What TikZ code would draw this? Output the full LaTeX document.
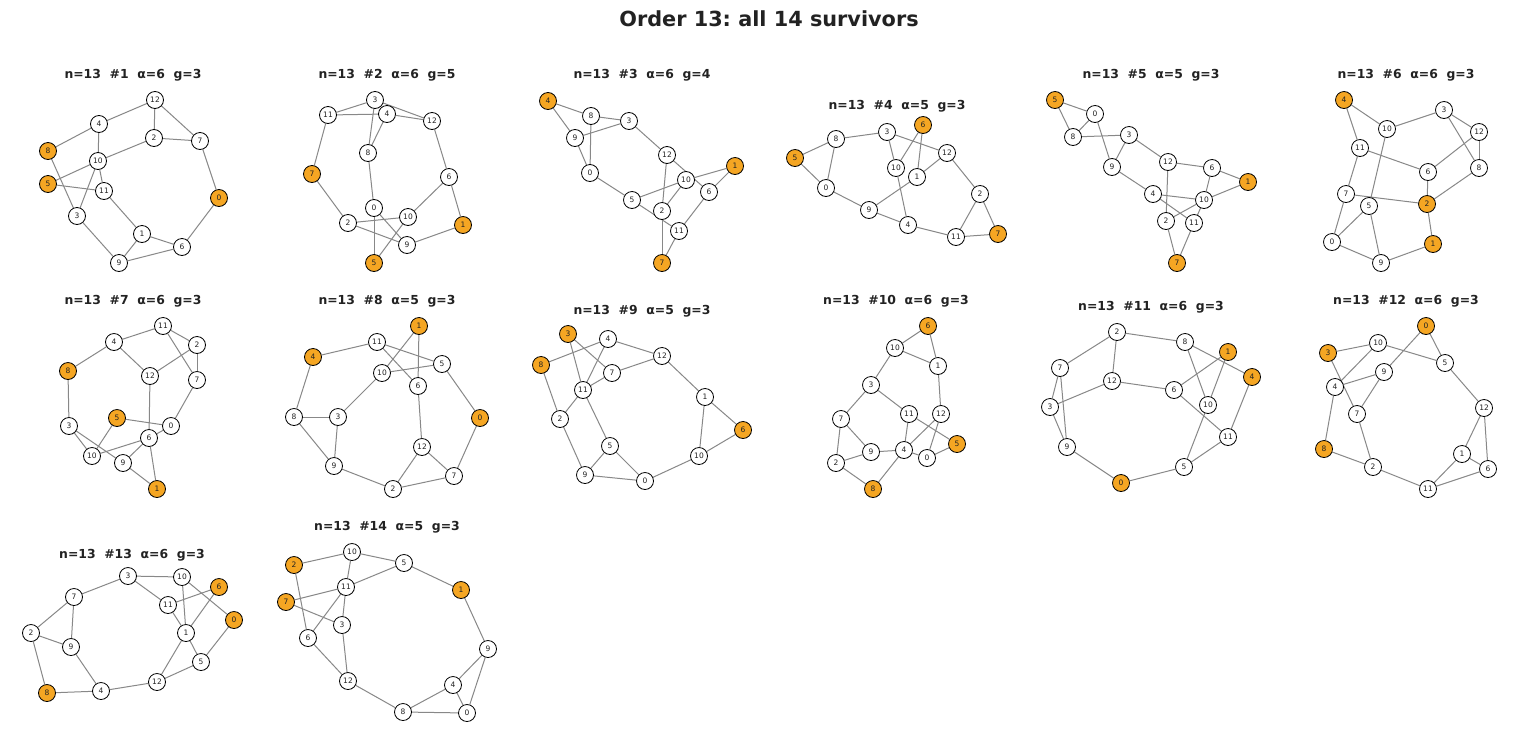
\documentclass[tikz,border=0pt]{standalone}
\usepackage{fontspec}
\setmainfont{DejaVu Sans}
\frenchspacing
\pgfdeclarelayer{bg}
\pgfdeclarelayer{edges}
\pgfsetlayers{bg,edges,main}
\definecolor{orng}{HTML}{F5A623}
\definecolor{edgec}{HTML}{888888}
\definecolor{txt}{HTML}{222222}
\newcommand{\gp}{\hspace{0.7em}}
\tikzset{
  vw/.style={circle, draw=black, line width=0.8pt, fill=white, minimum size=17pt, inner sep=0pt, font=\fontsize{7.5}{7.5}\selectfont, text=txt},
  vo/.style={vw, fill=orng},
  edge/.style={draw=edgec, line width=1pt},
  ttl/.style={font=\fontsize{12.4}{14}\selectfont\bfseries, text=txt, inner sep=0pt},
}
\begin{document}
\begin{tikzpicture}[x=1pt,y=-1pt]
\begin{pgfonlayer}{bg}
\fill[white] (0,0) rectangle (1538,742);
\end{pgfonlayer}
\useasboundingbox (0,0) rectangle (1538,742);
\node[font=\fontsize{20.8}{24}\selectfont\bfseries, text=txt, inner sep=0pt] (maintitle) at (769,19) {Order 13: all 14 survivors};
% titles
\node[ttl] (t1) at (133,75) {n=13\gp\#1\gp α=6\gp g=3};
\node[ttl] (t2) at (387,75) {n=13\gp\#2\gp α=6\gp g=5};
\node[ttl] (t3) at (642,75) {n=13\gp\#3\gp α=6\gp g=4};
\node[ttl] (t4) at (897,106) {n=13\gp\#4\gp α=5\gp g=3};
\node[ttl] (t5) at (1151,75) {n=13\gp\#5\gp α=5\gp g=3};
\node[ttl] (t6) at (1406,75) {n=13\gp\#6\gp α=6\gp g=3};
\node[ttl] (t7) at (133,301) {n=13\gp\#7\gp α=6\gp g=3};
\node[ttl] (t8) at (387,301) {n=13\gp\#8\gp α=5\gp g=3};
\node[ttl] (t9) at (642,311) {n=13\gp\#9\gp α=5\gp g=3};
\node[ttl] (t10) at (896,301) {n=13\gp\#10\gp α=6\gp g=3};
\node[ttl] (t11) at (1151,307) {n=13\gp\#11\gp α=6\gp g=3};
\node[ttl] (t12) at (1406,301) {n=13\gp\#12\gp α=6\gp g=3};
\node[ttl] (t13) at (132,555) {n=13\gp\#13\gp α=6\gp g=3};
\node[ttl] (t14) at (387,527) {n=13\gp\#14\gp α=5\gp g=3};
% graph 1
\foreach \i/\x/\y/\s in {0/219/198/vo,1/142/234/vw,2/154/138/vw,3/77/216/vw,4/99/124/vw,5/48/184/vo,6/182/247/vw,7/200/141/vw,8/48/151/vo,9/119/263/vw,10/98/161/vw,11/104/191/vw,12/155/100/vw}
  \node[\s] (p1n\i) at (\x,\y) {\i};
\begin{pgfonlayer}{edges}
\foreach \a/\b in {12/4,12/2,12/7,4/8,4/10,2/7,2/10,7/0,8/3,10/5,10/11,10/3,5/11,11/1,0/6,3/9,1/6,1/9,9/6}
  \draw[edge] (p1n\a) -- (p1n\b);
\end{pgfonlayer}
% graph 2
\foreach \i/\x/\y/\s in {0/374/208/vw,1/463/225/vo,2/348/223/vw,3/375/100/vw,4/387/114/vw,5/374/263/vo,6/449/177/vw,7/312/174/vo,8/368/153/vw,9/407/245/vw,10/408/217/vw,11/328/115/vw,12/432/121/vw}
  \node[\s] (p2n\i) at (\x,\y) {\i};
\begin{pgfonlayer}{edges}
\foreach \a/\b in {3/11,3/8,3/12,11/4,11/7,4/12,4/8,12/6,8/0,7/2,6/10,6/1,0/5,0/9,2/10,2/9,10/5,1/9}
  \draw[edge] (p2n\a) -- (p2n\b);
\end{pgfonlayer}
% graph 3
\foreach \i/\x/\y/\s in {0/590/173/vw,1/735/166/vo,2/662/211/vw,3/629/121/vw,4/548/101/vo,5/632/200/vw,6/709/192/vw,7/662/263/vo,8/591/116/vw,9/575/138/vw,10/686/180/vw,11/679/231/vw,12/667/155/vw}
  \node[\s] (p3n\i) at (\x,\y) {\i};
\begin{pgfonlayer}{edges}
\foreach \a/\b in {4/8,4/9,8/3,8/0,9/3,9/0,3/12,0/5,12/2,12/6,10/1,10/5,10/2,1/6,6/11,5/11,2/7,11/7}
  \draw[edge] (p3n\a) -- (p3n\b);
\end{pgfonlayer}
% graph 4
\foreach \i/\x/\y/\s in {0/826/188/vw,1/917/177/vw,2/980/194/vw,3/887/132/vw,4/908/225/vw,5/795/158/vo,6/923/125/vo,7/998/234/vo,8/836/139/vw,9/869/210/vw,10/896/168/vw,11/956/237/vw,12/947/153/vw}
  \node[\s] (p4n\i) at (\x,\y) {\i};
\begin{pgfonlayer}{edges}
\foreach \a/\b in {8/3,8/5,8/0,5/0,3/10,3/12,6/10,6/1,12/1,12/2,10/4,1/9,0/9,9/4,4/11,2/11,2/7,11/7}
  \draw[edge] (p4n\a) -- (p4n\b);
\end{pgfonlayer}
% graph 5
\foreach \i/\x/\y/\s in {0/1095/114/vw,1/1248/182/vo,2/1166/221/vw,3/1129/135/vw,4/1153/194/vw,5/1055/100/vo,6/1212/168/vw,7/1177/263/vo,8/1073/137/vw,9/1112/167/vw,10/1204/200/vw,11/1194/223/vw,12/1168/162/vw}
  \node[\s] (p5n\i) at (\x,\y) {\i};
\begin{pgfonlayer}{edges}
\foreach \a/\b in {5/0,5/8,0/8,0/9,8/3,3/9,3/12,9/4,12/6,12/2,6/1,6/10,1/10,4/10,4/11,10/2,10/11,2/7,11/7}
  \draw[edge] (p5n\a) -- (p5n\b);
\end{pgfonlayer}
% graph 6
\foreach \i/\x/\y/\s in {0/1332/242/vw,1/1433/244/vo,2/1427/204/vo,3/1444/110/vw,4/1344/100/vo,5/1369/206/vw,6/1428/172/vw,7/1346/194/vw,8/1479/168/vw,9/1381/263/vw,10/1387/129/vw,11/1360/148/vw,12/1479/132/vw}
  \node[\s] (p6n\i) at (\x,\y) {\i};
\begin{pgfonlayer}{edges}
\foreach \a/\b in {4/10,4/11,10/3,10/5,3/12,3/8,12/8,12/6,11/6,11/7,6/2,8/2,7/2,7/0,5/0,5/9,2/1,0/9,9/1}
  \draw[edge] (p6n\a) -- (p6n\b);
\end{pgfonlayer}
% graph 7
\foreach \i/\x/\y/\s in {0/171/426/vw,1/157/489/vo,2/197/345/vw,3/69/426/vw,4/114/342/vw,5/117/418/vo,6/149/438/vw,7/197/380/vw,8/68/371/vo,9/123/463/vw,10/92/456/vw,11/163/326/vw,12/150/376/vw}
  \node[\s] (p7n\i) at (\x,\y) {\i};
\begin{pgfonlayer}{edges}
\foreach \a/\b in {11/4,11/2,11/7,4/8,4/12,2/12,2/7,8/3,12/6,7/0,5/0,5/10,3/10,3/9,0/6,6/10,6/9,6/1,9/1}
  \draw[edge] (p7n\a) -- (p7n\b);
\end{pgfonlayer}
% graph 8
\foreach \i/\x/\y/\s in {0/480/418/vo,1/419/326/vo,2/393/489/vw,3/338/417/vw,4/313/357/vo,5/442/364/vw,6/418/386/vw,7/454/476/vw,8/294/417/vw,9/334/466/vw,10/382/373/vw,11/377/342/vw,12/422/447/vw}
  \node[\s] (p8n\i) at (\x,\y) {\i};
\begin{pgfonlayer}{edges}
\foreach \a/\b in {1/10,1/6,11/4,11/5,11/6,10/5,10/3,4/8,5/0,6/12,8/3,8/9,3/9,0/7,12/2,12/7,9/2,2/7}
  \draw[edge] (p8n\a) -- (p8n\b);
\end{pgfonlayer}
% graph 9
\foreach \i/\x/\y/\s in {0/645/481/vw,1/705/397/vw,2/560/419/vw,3/568/334/vo,4/608/339/vw,5/610/446/vw,6/743/430/vo,7/612/373/vw,8/541/365/vo,9/585/475/vw,10/699/456/vw,11/583/390/vw,12/662/356/vw}
  \node[\s] (p9n\i) at (\x,\y) {\i};
\begin{pgfonlayer}{edges}
\foreach \a/\b in {3/11,3/7,4/8,4/12,4/11,12/7,12/1,7/11,8/2,11/2,11/5,1/6,1/10,2/9,6/10,5/9,5/0,9/0,10/0}
  \draw[edge] (p9n\a) -- (p9n\b);
\end{pgfonlayer}
% graph 10
\foreach \i/\x/\y/\s in {0/927/458/vw,1/938/366/vw,2/836/463/vw,3/871/385/vw,4/904/450/vw,5/957/444/vo,6/928/326/vo,7/841/419/vw,8/873/489/vo,9/871/452/vw,10/895/348/vw,11/909/414/vw,12/941/414/vw}
  \node[\s] (p10n\i) at (\x,\y) {\i};
\begin{pgfonlayer}{edges}
\foreach \a/\b in {6/10,6/1,10/1,10/3,3/7,3/11,1/12,7/9,7/2,11/4,11/5,12/4,12/0,0/5,9/4,4/0,9/2,2/8,4/8}
  \draw[edge] (p10n\a) -- (p10n\b);
\end{pgfonlayer}
% graph 11
\foreach \i/\x/\y/\s in {0/1121/483/vo,1/1228/352/vo,2/1117/332/vw,3/1050/407/vw,4/1252/377/vo,5/1184/467/vw,6/1174/390/vw,7/1060/368/vw,8/1185/342/vw,9/1067/447/vw,10/1208/405/vw,11/1228/437/vw,12/1112/381/vw}
  \node[\s] (p11n\i) at (\x,\y) {\i};
\begin{pgfonlayer}{edges}
\foreach \a/\b in {2/8,2/7,2/12,8/4,8/10,1/6,1/10,7/3,7/9,12/3,12/6,6/11,4/11,3/9,10/5,11/5,9/0,0/5}
  \draw[edge] (p11n\a) -- (p11n\b);
\end{pgfonlayer}
% graph 12
\foreach \i/\x/\y/\s in {0/1426/326/vo,1/1462/454/vw,2/1373/467/vw,3/1328/353/vo,4/1335/387/vw,5/1445/363/vw,6/1488/469/vw,7/1357/414/vw,8/1324/449/vo,9/1384/372/vw,10/1378/343/vw,11/1428/489/vw,12/1484/408/vw}
  \node[\s] (p12n\i) at (\x,\y) {\i};
\begin{pgfonlayer}{edges}
\foreach \a/\b in {0/9,0/5,10/3,10/5,10/4,3/7,9/4,9/7,4/8,5/12,12/1,12/6,7/2,8/2,1/6,1/11,2/11,11/6}
  \draw[edge] (p12n\a) -- (p12n\b);
\end{pgfonlayer}
% graph 13
\foreach \i/\x/\y/\s in {0/234/620/vo,1/186/633/vw,2/31/633/vw,3/128/576/vw,4/101/691/vw,5/201/662/vw,6/219/587/vo,7/74/597/vw,8/47/693/vo,9/71/647/vw,10/182/577/vw,11/168/605/vw,12/157/682/vw}
  \node[\s] (p13n\i) at (\x,\y) {\i};
\begin{pgfonlayer}{edges}
\foreach \a/\b in {3/7,3/10,3/11,10/1,10/0,6/11,6/1,7/2,7/9,11/1,2/9,2/8,1/12,1/5,0/5,9/4,12/5,12/4,8/4}
  \draw[edge] (p13n\a) -- (p13n\b);
\end{pgfonlayer}
% graph 14
\foreach \i/\x/\y/\s in {0/467/713/vw,1/461/590/vo,2/294/565/vo,3/342/625/vw,4/453/685/vw,5/404/563/vw,6/308/638/vw,7/286/602/vo,8/403/712/vw,9/488/649/vw,10/352/552/vw,11/346/587/vw,12/348/681/vw}
  \node[\s] (p14n\i) at (\x,\y) {\i};
\begin{pgfonlayer}{edges}
\foreach \a/\b in {10/2,10/5,10/11,2/6,5/11,5/1,11/7,11/3,11/6,7/3,3/12,6/12,1/9,9/4,9/0,12/8,4/8,4/0,8/0}
  \draw[edge] (p14n\a) -- (p14n\b);
\end{pgfonlayer}
\end{tikzpicture}
\end{document}
